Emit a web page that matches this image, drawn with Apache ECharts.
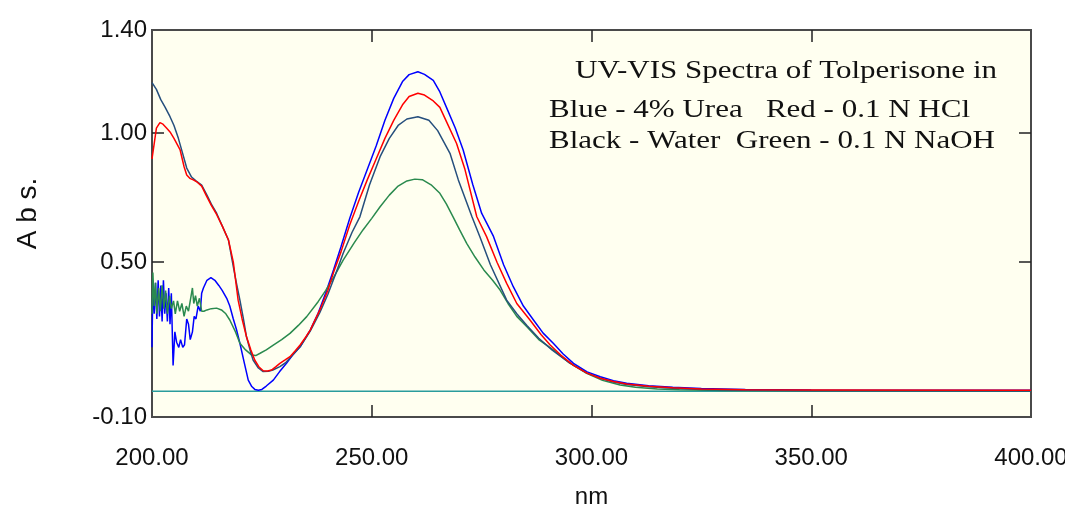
<!DOCTYPE html>
<html>
<head>
<meta charset="utf-8">
<script src="https://cdn.jsdelivr.net/npm/echarts@6/dist/echarts.min.js"></script>
<style>
  html, body { margin: 0; padding: 0; background: #ffffff; }
  #chart { width: 1065px; height: 510px; }
</style>
</head>
<body>
<div id="chart"></div>
<script>
// wavelength (nm) / absorbance pairs
var blueWl  = [200.0,200.2,200.5,200.8,201.1,201.4,201.7,202.0,202.3,202.6,202.9,203.2,203.5,203.8,204.1,204.4,204.8,205.2,205.6,206.1,206.5,207.0,207.4,207.9,208.3,208.7,209.2,209.6,210.0,210.5,211.0,211.3,211.7,212.5,213.4,214.3,215.2,216.0,217.0,217.7,218.5,219.2,220.0,221.0,221.9,222.7,223.4,224.2,225.0,226.0,227.6,229.0,230.6,232.0,233.7,236.0,237.8,239.5,241.3,243.0,245.0,247.0,249.0,251.0,253.0,255.0,257.0,258.5,260.5,262.0,264.0,265.5,267.0,269.0,270.8,273.0,275.0,277.7,280.0,282.2,284.5,286.8,289.0,291.3,293.5,295.9,299.0,302.0,305.0,308.0,313.0,318.5,325.0,335.0,350.0,370.0,400.0];
var blueAbs = [0.17,0.43,0.30,0.42,0.28,0.43,0.29,0.41,0.27,0.43,0.30,0.38,0.27,0.40,0.26,0.38,0.10,0.23,0.19,0.17,0.20,0.17,0.18,0.28,0.26,0.20,0.23,0.29,0.28,0.33,0.31,0.38,0.40,0.43,0.44,0.43,0.41,0.39,0.36,0.33,0.28,0.24,0.186,0.11,0.043,0.018,0.007,0.004,0.007,0.02,0.043,0.075,0.108,0.14,0.172,0.237,0.302,0.38,0.47,0.56,0.67,0.77,0.86,0.95,1.05,1.135,1.20,1.227,1.238,1.228,1.205,1.16,1.10,1.02,0.935,0.80,0.69,0.60,0.49,0.405,0.33,0.276,0.225,0.186,0.145,0.108,0.075,0.056,0.041,0.031,0.021,0.015,0.010,0.007,0.005,0.004,0.004];

var redWl  = [200.0,200.5,201.0,201.8,202.5,203.3,204.1,205.0,206.4,207.3,207.9,208.6,209.4,210.3,211.3,212.3,213.5,214.7,216.0,217.4,218.5,219.6,220.5,221.5,222.5,223.4,224.3,225.3,226.3,227.2,228.2,229.1,230.2,231.4,232.5,233.7,235.0,236.0,238.2,240.0,241.3,243.0,245.0,247.0,249.0,251.0,253.0,255.0,257.0,258.5,260.5,262.0,264.0,265.5,267.0,269.3,271.2,273.9,276.1,278.5,280.7,283.0,286.0,288.5,290.6,293.0,295.9,299.0,302.0,305.0,308.0,313.0,318.5,325.0,335.0,350.0,400.0];
var redAbs = [0.90,0.96,1.02,1.041,1.035,1.02,1.005,0.98,0.935,0.87,0.838,0.825,0.819,0.81,0.795,0.76,0.72,0.685,0.64,0.586,0.50,0.353,0.28,0.211,0.16,0.12,0.095,0.079,0.078,0.082,0.095,0.108,0.12,0.134,0.155,0.179,0.21,0.237,0.315,0.39,0.46,0.54,0.645,0.735,0.82,0.90,0.98,1.05,1.11,1.142,1.155,1.148,1.125,1.10,1.045,0.96,0.86,0.676,0.60,0.50,0.418,0.34,0.276,0.22,0.179,0.14,0.10,0.07,0.05,0.038,0.028,0.019,0.013,0.009,0.006,0.005,0.004];

var blackWl  = [200.0,201.0,202.0,203.0,204.1,205.0,206.0,207.0,207.9,209.0,210.0,211.3,212.5,213.5,214.7,216.0,217.4,218.5,219.2,220.0,220.8,221.5,222.3,223.0,224.2,225.3,226.5,227.5,229.1,230.5,232.0,233.7,236.0,238.2,240.0,241.8,243.5,245.5,247.3,249.5,251.9,254.0,256.0,258.0,260.5,263.0,265.0,267.8,269.7,272.8,274.6,277.0,280.7,283.0,285.3,288.0,291.0,295.0,299.0,302.0,305.0,308.0,313.0,318.5,325.0,335.0,350.0,400.0];
var blackAbs = [1.196,1.17,1.13,1.10,1.064,1.03,0.98,0.92,0.865,0.83,0.815,0.799,0.76,0.725,0.69,0.64,0.586,0.483,0.42,0.353,0.28,0.211,0.16,0.121,0.09,0.076,0.077,0.082,0.095,0.112,0.14,0.172,0.233,0.305,0.375,0.455,0.535,0.615,0.676,0.80,0.909,0.98,1.03,1.055,1.064,1.05,1.01,0.922,0.819,0.676,0.599,0.49,0.353,0.30,0.255,0.205,0.16,0.11,0.07,0.05,0.036,0.026,0.017,0.011,0.007,0.004,0.002,0.001];

var greenWl  = [200.0,200.2,200.5,200.8,201.1,201.5,201.9,202.3,202.7,203.1,203.5,204.0,204.4,204.9,205.3,205.8,206.3,206.8,207.3,207.8,208.3,208.8,209.2,209.5,209.9,210.3,210.8,211.3,211.8,212.5,213.5,214.7,215.8,216.8,217.7,219.0,220.0,221.3,222.7,223.6,224.6,226.0,227.6,229.5,231.4,233.3,235.2,237.8,239.5,241.3,243.5,246.0,248.0,250.0,251.9,254.0,256.0,258.0,259.8,261.5,263.5,265.5,267.0,268.5,270.0,271.6,273.5,275.5,277.5,279.2,281.0,283.0,285.3,288.0,291.3,295.0,298.9,302.5,306.5,310.0,315.0,320.0,330.0,350.0,400.0];
var greenAbs = [0.30,0.46,0.33,0.42,0.30,0.40,0.31,0.41,0.32,0.39,0.30,0.37,0.32,0.35,0.30,0.35,0.31,0.34,0.29,0.33,0.31,0.36,0.40,0.34,0.37,0.33,0.36,0.31,0.31,0.315,0.32,0.322,0.315,0.30,0.276,0.23,0.186,0.16,0.14,0.138,0.147,0.16,0.179,0.20,0.224,0.255,0.289,0.347,0.39,0.44,0.508,0.575,0.625,0.67,0.715,0.76,0.795,0.815,0.822,0.82,0.80,0.767,0.725,0.676,0.625,0.573,0.52,0.47,0.43,0.392,0.34,0.29,0.25,0.20,0.16,0.11,0.069,0.042,0.024,0.015,0.009,0.006,0.003,0.002,0.001];

var baseWl  = [200, 400];
var baseAbs = [0, 0];

var xTicks = [250, 300, 350];
var xLabels = [200, 250, 300, 350, 400];
var yTicks = [0.5, 1.0];
var yLabels = [-0.1, 0.5, 1.0, 1.4];

var noteLines = [
    'UV-VIS Spectra of Tolperisone in',
    'Blue - 4% Urea   Red - 0.1 N HCl',
    'Black - Water  Green - 0.1 N NaOH'
];

function pairs(wl, abs) {
    var out = [];
    for (var i = 0; i < wl.length; i++) {
        out.push([wl[i], abs[i]]);
    }
    return out;
}

var numFont = "'Liberation Sans', Arial, sans-serif";
var serifFont = "'Liberation Serif', 'Times New Roman', serif";

var chart = echarts.init(document.getElementById('chart'), null, { renderer: 'canvas' });

function curve(name, data, color) {
    return {
        name: name,
        type: 'line',
        data: data,
        xAxisIndex: 0,
        yAxisIndex: 0,
        showSymbol: false,
        symbol: 'none',
        smooth: false,
        lineStyle: { color: color, width: 1.5 },
        itemStyle: { color: color },
        emphasis: { disabled: true },
        silent: true
    };
}

var tickStyle = { show: true, inside: true, length: 12, lineStyle: { color: '#222', width: 1.5 } };

// note text is drawn wider than the plain font, so stretch it a little
function note(text, x, y) {
    return {
        type: 'text', x: x, y: y, scaleX: 1.24, silent: true,
        style: { text: text, font: '25px ' + serifFont, fill: '#111', textAlign: 'left', textVerticalAlign: 'middle' }
    };
}

var option = {
    animation: false,
    backgroundColor: '#ffffff',
    grid: {
        left: 152, right: 34, top: 30, bottom: 93,
        outerBoundsMode: 'none',
        containLabel: false,
        show: true,
        backgroundColor: '#fffff0',
        borderColor: '#4a4a4a',
        borderWidth: 2
    },
    xAxis: [
        {
            type: 'value', position: 'bottom', min: 200, max: 400,
            name: 'nm', nameLocation: 'middle', nameGap: 68,
            nameTextStyle: { fontFamily: numFont, fontSize: 24, color: '#111' },
            axisLine: { show: false, onZero: false },
            splitLine: { show: false },
            axisTick: Object.assign({ customValues: xTicks }, tickStyle),
            axisLabel: {
                customValues: xLabels, margin: 29,
                fontFamily: numFont, fontSize: 24, color: '#111',
                formatter: function (v) { return v.toFixed(2); }
            }
        },
        {
            type: 'value', position: 'top', min: 200, max: 400,
            axisLine: { show: false, onZero: false },
            splitLine: { show: false },
            axisTick: Object.assign({ customValues: xTicks }, tickStyle),
            axisLabel: { show: false }
        }
    ],
    yAxis: [
        {
            type: 'value', position: 'left', min: -0.1, max: 1.4,
            name: 'A b s.', nameLocation: 'middle', nameGap: 110, nameRotate: 90,
            nameTextStyle: { fontFamily: numFont, fontSize: 28, color: '#111', padding: [0, 0, 0, 20] },
            axisLine: { show: false, onZero: false },
            splitLine: { show: false },
            axisTick: Object.assign({ customValues: yTicks }, tickStyle),
            axisLabel: {
                customValues: yLabels, margin: 5,
                fontFamily: numFont, fontSize: 24, color: '#111',
                formatter: function (v) { return v.toFixed(2); }
            }
        },
        {
            type: 'value', position: 'right', min: -0.1, max: 1.4,
            axisLine: { show: false, onZero: false },
            splitLine: { show: false },
            axisTick: Object.assign({ customValues: yTicks }, tickStyle),
            axisLabel: { show: false }
        }
    ],
    graphic: [
        note(noteLines[0], 575, 71),
        note(noteLines[1], 549, 110),
        note(noteLines[2], 549, 141)
    ],
    series: [
        curve('baseline', pairs(baseWl, baseAbs), '#2a9c9c'),
        curve('Blue', pairs(blueWl, blueAbs), '#0000ff'),
        curve('Green', pairs(greenWl, greenAbs), '#2a8a4e'),
        curve('Black', pairs(blackWl, blackAbs), '#264f7d'),
        curve('Red', pairs(redWl, redAbs), '#ff0000')
    ]
};

chart.setOption(option);
</script>
</body>
</html>
